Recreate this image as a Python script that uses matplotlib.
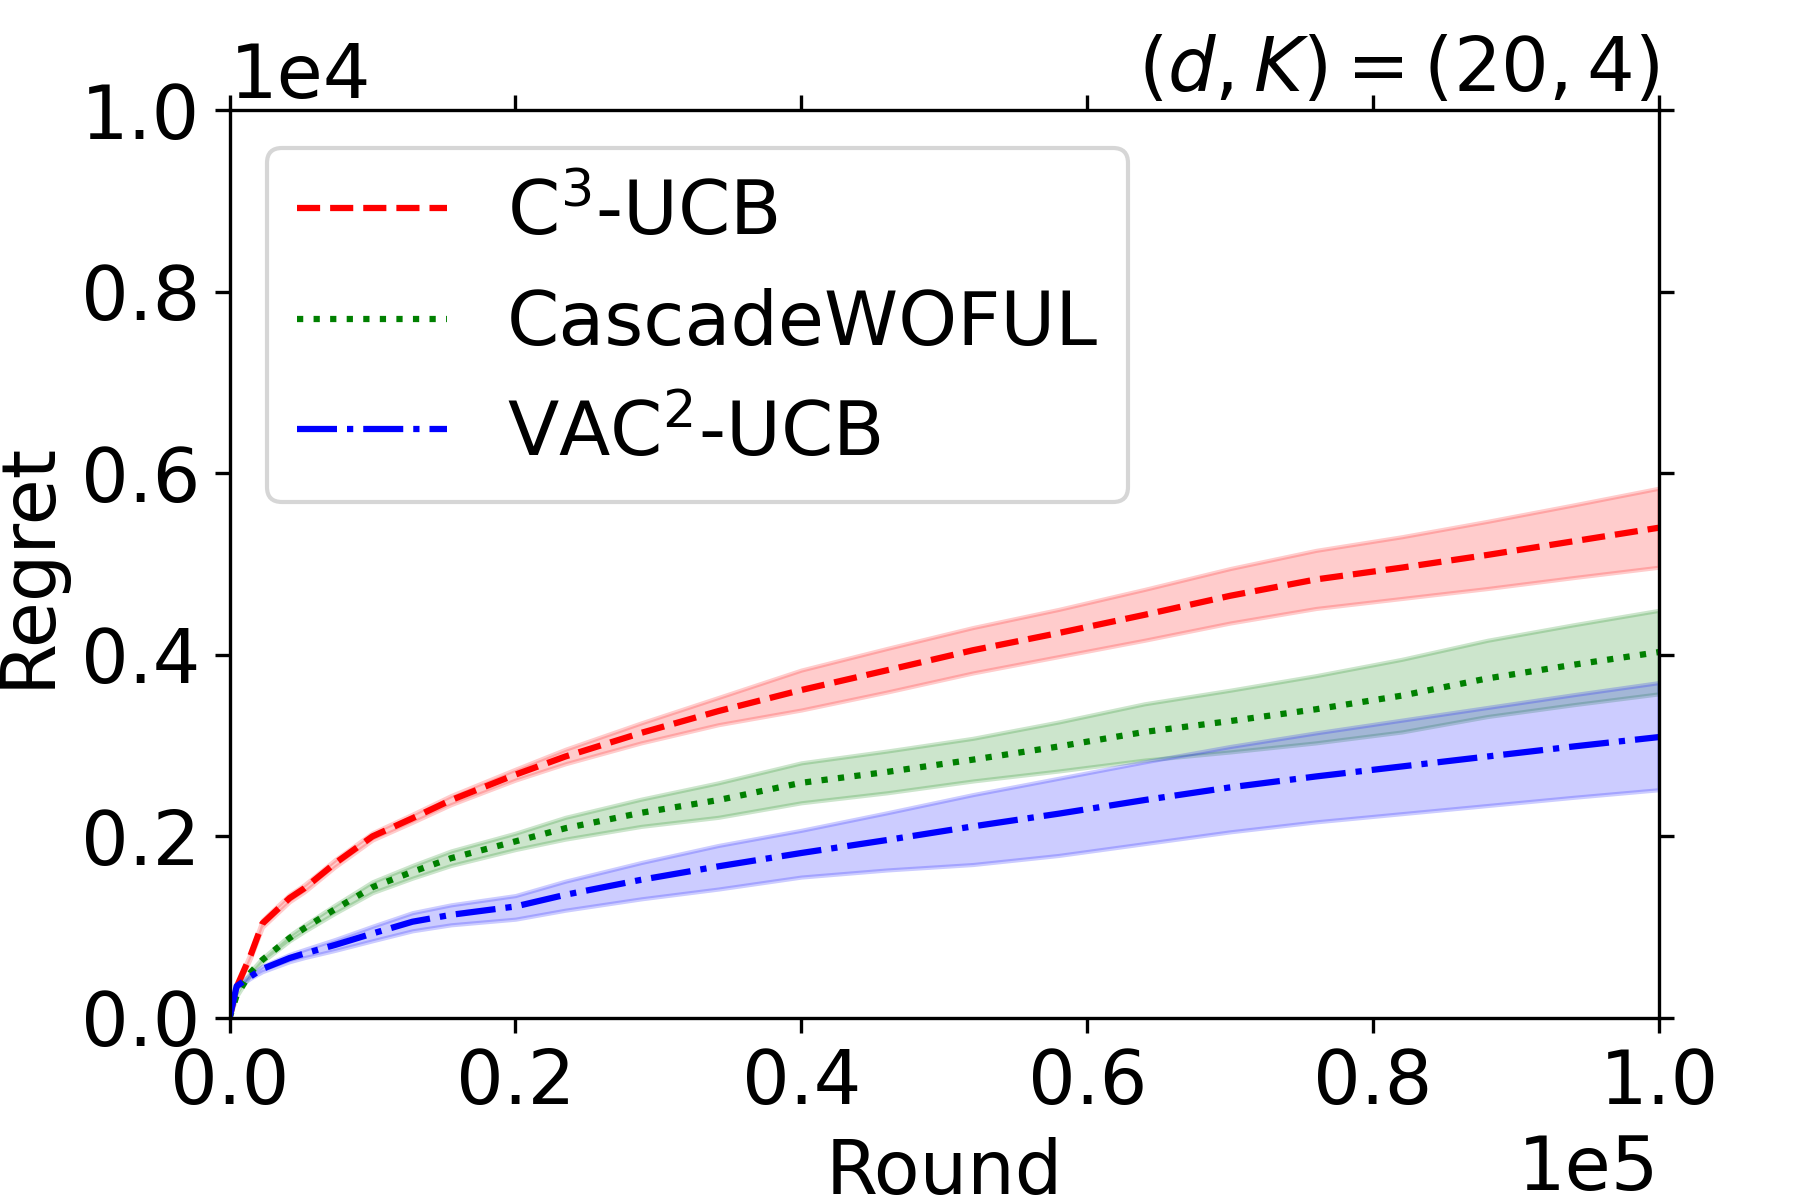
import matplotlib
matplotlib.use("Agg")
import matplotlib.pyplot as plt
import numpy as np

rounds = [0, 500, 1500, 2300, 4200, 5250, 7400, 10000, 12800, 15500, 20000, 23500,
          28800, 34200, 40000, 46000, 52000, 58000, 64000, 70000, 76000, 82000,
          88000, 94000, 100000]

c3_mean = [0, 340, 700, 1040, 1320, 1430, 1706, 2000, 2200, 2400, 2680, 2880,
           3140, 3380, 3612, 3830, 4050, 4240, 4440, 4650, 4830, 4960,
           5100, 5250, 5400]
c3_lo = [0, 20, 30, 40, 40, 40, 40, 40, 45, 50, 60, 80,
         110, 150, 220, 240, 250, 260, 280, 300, 320, 340,
         370, 400, 435]
c3_hi = c3_lo

wof_mean = [0, 250, 505, 640, 880, 990, 1200, 1440, 1610, 1760, 1945, 2090,
            2260, 2400, 2590, 2710, 2845, 2990, 3150, 3270, 3400, 3550,
            3740, 3890, 4030]
wof_lo = [0, 10, 15, 20, 30, 35, 45, 60, 70, 80, 90, 120,
          150, 190, 220, 230, 235, 270, 310, 340, 370, 400,
          420, 440, 460]
wof_hi = wof_lo

vac_mean = [0, 350, 460, 540, 660, 710, 805, 930, 1060, 1136, 1228, 1357,
            1522, 1670, 1817, 1960, 2110, 2250, 2400, 2540, 2660, 2770,
            2880, 2990, 3094]
vac_lo = [0, 15, 20, 30, 40, 45, 60, 80, 100, 110, 140, 170,
          210, 250, 265, 330, 420, 460, 480, 490, 500, 520,
          540, 560, 580]
vac_hi = [0, 15, 20, 30, 40, 45, 60, 80, 100, 110, 120, 150,
          190, 230, 250, 300, 350, 390, 420, 450, 480, 510,
          540, 570, 600]

labels = [r"C$^3$-UCB", "CascadeWOFUL", r"VAC$^2$-UCB"]
colors = ["red", "green", "blue"]
styles = ["--", ":", "-."]

FS = 18
plt.rcParams['font.size'] = FS

fig = plt.figure(figsize=(6, 4), dpi=300)
ax = fig.add_axes([0.1275, 0.1517, 0.9217 - 0.1275, 0.9083 - 0.1517])

x = np.array(rounds)
series = [(c3_mean, c3_lo, c3_hi), (wof_mean, wof_lo, wof_hi), (vac_mean, vac_lo, vac_hi)]
for (m, lo, hi), lab, col, ls in zip(series, labels, colors, styles):
    m = np.array(m, float)
    ax.plot(x, m, linestyle=ls, color=col, linewidth=1.5, label=lab)
    ax.fill_between(x, m - np.array(lo, float), m + np.array(hi, float), color=col, alpha=0.2)

ax.set_xlim(0, 100000)
ax.set_ylim(0, 10000)
ax.set_xticks([0, 20000, 40000, 60000, 80000, 100000])
ax.set_yticks([0, 2000, 4000, 6000, 8000, 10000])
ax.ticklabel_format(style='sci', scilimits=(0, 0), axis='both')
ax.tick_params(top=True, right=True, labelsize=FS)
ax.xaxis.get_offset_text().set_fontsize(FS)
ax.yaxis.get_offset_text().set_fontsize(FS)
ax.set_xlabel("Round", fontsize=FS)
ax.set_ylabel("Regret", fontsize=FS)
ax.set_title(r"$(d, K) = (20, 4)$", loc='right', fontsize=FS, pad=4.5)
ax.legend(loc='upper left', fontsize=FS)

fig.savefig("out.png", dpi=300)
